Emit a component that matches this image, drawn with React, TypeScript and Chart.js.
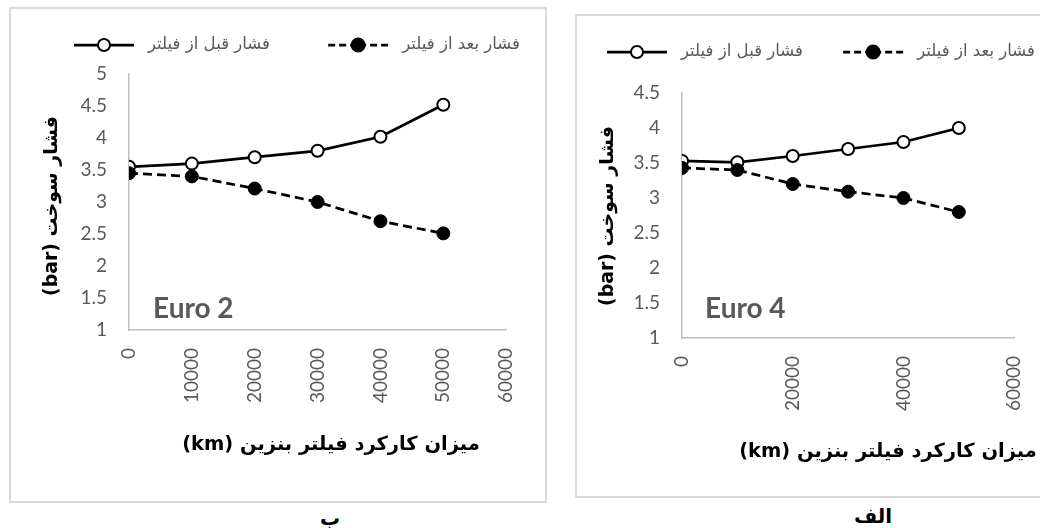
import React, { useEffect, useRef } from "react";
import { Chart, registerables } from "chart.js";

Chart.register(...registerables);

// ---------- data ----------
const mileageKm = [0, 10000, 20000, 30000, 40000, 50000];

const euro2Before = [3.55, 3.6, 3.7, 3.8, 4.02, 4.52];
const euro2After = [3.45, 3.4, 3.21, 3.0, 2.7, 2.51];

const euro4Before = [3.53, 3.51, 3.6, 3.7, 3.8, 4.0];
const euro4After = [3.43, 3.4, 3.2, 3.09, 3.0, 2.8];

const legendBefore = "فشار قبل از فیلتر";
const legendAfter = "فشار بعد از فیلتر";
const xAxisTitle = "میزان کارکرد فیلتر بنزین (km)";
const yAxisTitle = "فشار سوخت (bar)";
const euro2Label = "Euro 2";
const euro4Label = "Euro 4";
const panelLabels = ["ب", "الف"];

const xMax = 60000;
const yMin = 1;
const yStep = 0.5;

// ---------- helpers ----------
function fitSize(ctx: CanvasRenderingContext2D, text: string, weight: string, family: string, target: number) {
  ctx.font = `${weight} 20px ${family}`;
  const w = ctx.measureText(text).width;
  return (20 * target) / w;
}

const decorPlugin = {
  id: "decor",
  beforeDraw(chart: any) {
    const { ctx, width, height } = chart;
    ctx.save();
    ctx.fillStyle = "#ffffff";
    ctx.fillRect(0, 0, width, height);
    ctx.strokeStyle = "#d9d9d9";
    ctx.lineWidth = 2;
    ctx.strokeRect(1, 1, width - 2, height - 2);
    ctx.restore();
  },
  afterDraw(chart: any, _args: any, o: any) {
    const { ctx, chartArea } = chart;
    ctx.save();
    const arabic = "'DejaVu Sans', sans-serif";

    // legend
    ctx.direction = "rtl";
    const lsz = fitSize(ctx, legendAfter, "normal", arabic, o.legendTextWidth);
    ctx.font = `normal ${lsz}px ${arabic}`;
    ctx.fillStyle = "#595959";
    ctx.textAlign = "right";
    ctx.textBaseline = "middle";
    const ly = o.legendY;
    const items = [
      { text: legendBefore, right: o.text1Right, dashed: false },
      { text: legendAfter, right: o.text2Right, dashed: true },
    ];
    items.forEach((it) => {
      ctx.fillStyle = "#595959";
      ctx.fillText(it.text, it.right, ly);
      const tw = ctx.measureText(it.text).width;
      const symRight = it.right - tw - o.symGap;
      const symLeft = symRight - o.symLen;
      const cx = (symLeft + symRight) / 2;
      ctx.beginPath();
      ctx.strokeStyle = "#000";
      ctx.lineWidth = 2.75;
      ctx.setLineDash(it.dashed ? [7, 4] : []);
      if (it.dashed) {
        ctx.moveTo(symLeft, ly);
        ctx.lineTo(cx, ly);
        ctx.moveTo(symRight, ly);
        ctx.lineTo(cx, ly);
      } else {
        ctx.moveTo(symLeft, ly);
        ctx.lineTo(symRight, ly);
      }
      ctx.stroke();
      ctx.setLineDash([]);
      ctx.beginPath();
      ctx.arc(cx, ly, it.dashed ? 6.5 : 6, 0, Math.PI * 2);
      ctx.fillStyle = it.dashed ? "#000" : "#fff";
      ctx.fill();
      ctx.lineWidth = 2;
      ctx.strokeStyle = "#000";
      ctx.stroke();
    });

    // axis titles
    ctx.fillStyle = "#000";
    ctx.textAlign = "center";
    ctx.textBaseline = "middle";
    const xs = fitSize(ctx, xAxisTitle, "bold", arabic, o.xTitleWidth);
    ctx.font = `bold ${xs}px ${arabic}`;
    ctx.fillText(xAxisTitle, o.xTitleX, o.xTitleY);
    const ys = fitSize(ctx, yAxisTitle, "bold", arabic, o.yTitleWidth);
    ctx.font = `bold ${ys}px ${arabic}`;
    ctx.save();
    ctx.translate(o.yTitleX, o.yTitleY);
    ctx.rotate(-Math.PI / 2);
    ctx.fillText(yAxisTitle, 0, 0);
    ctx.restore();

    // Euro label
    ctx.direction = "ltr";
    ctx.textAlign = "left";
    ctx.textBaseline = "alphabetic";
    ctx.fillStyle = "#595959";
    ctx.font = "bold 28px Lato, sans-serif";
    ctx.fillText(o.euroText, chartArea.left + o.euroDx, chartArea.bottom - o.euroDy);
    ctx.restore();
  },
};

function makeConfig(
  before: number[],
  after: number[],
  xStep: number,
  yMax: number,
  W: number,
  H: number,
  area: { left: number; right: number; top: number; bottom: number },
  decor: any
) {
  const tickFont = { family: "Lato", size: 19 };
  return {
    type: "line",
    data: {
      datasets: [
        {
          label: legendBefore,
          data: mileageKm.map((x, i) => ({ x, y: before[i] })),
          borderColor: "#000",
          borderWidth: 2.75,
          pointRadius: 6,
          pointBackgroundColor: "#fff",
          pointBorderColor: "#000",
          pointBorderWidth: 2,
          tension: 0,
          order: 1,
        },
        {
          label: legendAfter,
          data: mileageKm.map((x, i) => ({ x, y: after[i] })),
          borderColor: "#000",
          borderWidth: 2.75,
          borderDash: [9, 5],
          pointRadius: 6.5,
          pointBackgroundColor: "#000",
          pointBorderColor: "#000",
          pointBorderWidth: 1,
          tension: 0,
          order: 0,
        },
      ],
    },
    options: {
      animation: false,
      responsive: false,
      devicePixelRatio: 1,
      layout: { padding: { top: area.top, right: W - area.right, left: 0, bottom: 0 } },
      plugins: { legend: { display: false }, tooltip: { enabled: false }, decor },
      scales: {
        x: {
          type: "linear",
          min: 0,
          max: xMax,
          ticks: {
            stepSize: xStep,
            autoSkip: false,
            minRotation: 90,
            maxRotation: 90,
            padding: 18,
            color: "#595959",
            font: tickFont,
            callback: (v: any) => String(v),
          },
          grid: { display: false, drawTicks: false },
          border: { display: true, color: "#bfbfbf", width: 1.5 },
          afterFit: (s: any) => {
            s.height = H - area.bottom;
          },
        },
        y: {
          type: "linear",
          min: yMin,
          max: yMax,
          ticks: {
            stepSize: yStep,
            padding: 22,
            color: "#595959",
            font: tickFont,
            callback: (v: any) => String(v),
          },
          grid: { display: false, drawTicks: false },
          border: { display: true, color: "#bfbfbf", width: 1.5 },
          afterFit: (s: any) => {
            s.width = area.left;
          },
        },
      },
    },
    plugins: [decorPlugin],
  };
}

function ChartBox({ config, left, top, width, height }: any) {
  const ref = useRef<HTMLCanvasElement | null>(null);
  useEffect(() => {
    if (!ref.current) return;
    const chart = new Chart(ref.current, config);
    return () => chart.destroy();
  }, []);
  return (
    <canvas
      ref={ref}
      width={width}
      height={height}
      style={{ position: "absolute", left, top, width, height, display: "block" }}
    />
  );
}

export default function App() {
  const LW = 538, LH = 496;
  const RW = 480, RH = 484;
  const leftConfig = makeConfig(
    euro2Before,
    euro2After,
    10000,
    5,
    LW,
    LH,
    { left: 120, right: 511, top: 67, bottom: 323 },
    {
      legendY: 38,
      text1Right: 261,
      text2Right: 511,
      legendTextWidth: 118,
      symGap: 14,
      symLen: 60,
      xTitleX: 322,
      xTitleY: 438,
      xTitleWidth: 298,
      yTitleX: 43,
      yTitleY: 199,
      yTitleWidth: 180,
      euroText: euro2Label,
      euroDx: 24,
      euroDy: 12,
    }
  );
  const rightConfig = makeConfig(
    euro4Before,
    euro4After,
    20000,
    4.5,
    RW,
    RH,
    { left: 107, right: 447, top: 79, bottom: 324 },
    {
      legendY: 38,
      text1Right: 228,
      text2Right: 460,
      legendTextWidth: 118,
      symGap: 14,
      symLen: 60,
      xTitleX: 313,
      xTitleY: 438,
      xTitleWidth: 298,
      yTitleX: 33,
      yTitleY: 202,
      yTitleWidth: 180,
      euroText: euro4Label,
      euroDx: 23,
      euroDy: 20,
    }
  );
  const captionStyle: any = {
    position: "absolute",
    transform: "translate(-50%, -50%)",
    font: "bold 20px 'DejaVu Sans', sans-serif",
    color: "#000",
    whiteSpace: "nowrap",
  };
  return (
    <div
      style={{
        position: "absolute",
        left: 0,
        top: 0,
        width: 1040,
        height: 528,
        overflow: "hidden",
        background: "#fff",
      }}
    >
      <ChartBox config={leftConfig} left={9} top={7} width={LW} height={LH} />
      <ChartBox config={rightConfig} left={575} top={14} width={RW} height={RH} />
      <div style={{ ...captionStyle, left: 330, top: 518 }}>{panelLabels[0]}</div>
      <div style={{ ...captionStyle, left: 873, top: 516 }}>{panelLabels[1]}</div>
    </div>
  );
}
